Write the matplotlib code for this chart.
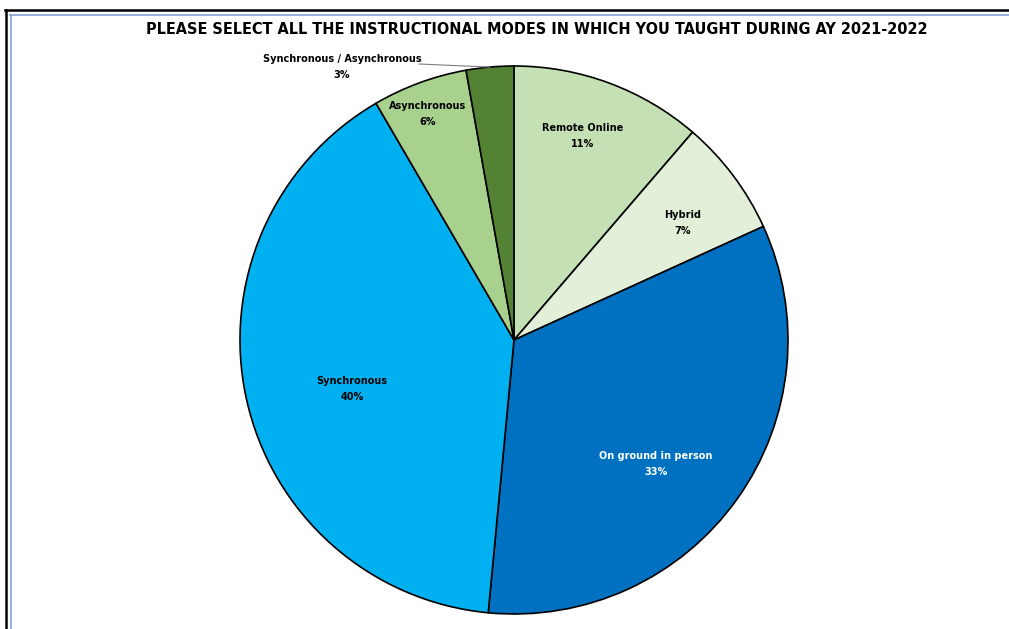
import numpy as np
import matplotlib.pyplot as plt
from matplotlib.lines import Line2D

modes = ["Remote Online", "Hybrid", "On ground in person", "Synchronous",
         "Asynchronous", "Synchronous / Asynchronous"]
shares = [11.3, 6.9, 33.3, 40.1, 5.6, 2.8]
colors = ["#C5E0B4", "#E2F0D9", "#0070C0", "#00B0F0", "#A9D18E", "#548235"]
label_colors = ["black", "black", "white", "black", "black", "black"]

title = "PLEASE SELECT ALL THE INSTRUCTIONAL MODES IN WHICH YOU TAUGHT DURING AY 2021-2022"

W, H = 1009, 629
cx, cy, R = 514, 340, 274  # pie placement in pixels
# label centres in pixels (as placed in the original)
label_px = [(583, 136), (683, 223), (656, 464), (352, 389), (428, 114), (342, 67)]

fig = plt.figure(figsize=(W / 100, H / 100), dpi=100)
ax = fig.add_axes([0, 0, 1, 1])

wedges, _ = ax.pie(shares, colors=colors, startangle=90, counterclock=False,
                   radius=1, wedgeprops=dict(edgecolor="black", linewidth=1.2))

# pie() resets the limits, so set them afterwards
ax.set_xlim(-cx / R, (W - cx) / R)
ax.set_ylim(-(H - cy) / R, cy / R)
ax.set_aspect("equal")
ax.axis("off")

for w, name, val, (px, py), lc in zip(wedges, modes, shares, label_px, label_colors):
    tx, ty = (px - cx) / R, (cy - py) / R
    ax.text(tx, ty, f"{name}\n{round(val)}%", ha="center", va="center",
            fontsize=7, fontweight="bold", color=lc, linespacing=1.75)

# leader line for the small slice
mid = np.deg2rad((wedges[-1].theta1 + wedges[-1].theta2) / 2)
ax.plot([(419 - cx) / R, np.cos(mid)], [(cy - 64) / R, np.sin(mid)],
        color="#7f7f7f", lw=0.8)

fig.text(0.5 + 32 / W, 1 - 30 / H, title, ha="center", va="center", fontsize=10.45,
         fontweight="bold", family="DejaVu Sans")

# outer frame (black) and inner border (light blue)
fig.add_artist(Line2D([5 / W, 1], [1 - 10 / H, 1 - 10 / H], color="black", lw=1.8))
fig.add_artist(Line2D([6 / W, 6 / W], [0, 1 - 10 / H], color="black", lw=1.8))
fig.add_artist(Line2D([10 / W, 1], [1 - 15 / H, 1 - 15 / H], color="#8EA9DB", lw=1.3))
fig.add_artist(Line2D([10.5 / W, 10.5 / W], [0, 1 - 15 / H], color="#8EA9DB", lw=1.3))

fig.savefig("out.png", dpi=100)
